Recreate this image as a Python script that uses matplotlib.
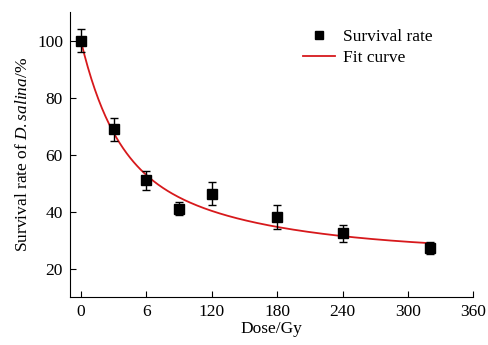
import numpy as np
import matplotlib
matplotlib.use("Agg")
import matplotlib.pyplot as plt
from matplotlib.lines import Line2D

plt.rcParams['font.family'] = ['Liberation Serif', 'DejaVu Serif']
plt.rcParams['mathtext.fontset'] = 'custom'
plt.rcParams['mathtext.it'] = 'Liberation Serif:italic'
plt.rcParams['mathtext.rm'] = 'Liberation Serif'

dose = [0, 30, 60, 90, 120, 180, 240, 320]
survival = [100, 68.8, 50.9, 41.0, 46.2, 38.2, 32.3, 27.2]
errors = [4.0, 4.2, 3.2, 2.3, 4.0, 4.2, 3.0, 2.0]

# two-phase exponential decay fit parameters
fit_y0, fit_a1, fit_t1, fit_a2, fit_t2 = 26.0, 40.0, 30.0, 34.0, 130.0

xticks = [0, 60, 120, 180, 240, 300, 360]
xticklabels = ['0', '6', '120', '180', '240', '300', '360']
yticks = [20, 40, 60, 80, 100]

fig = plt.figure(figsize=(4.89, 3.45), dpi=100)
ax = fig.add_axes([0.143, 0.139, 0.825, 0.826])

xf = np.linspace(0, 322, 300)
yf = fit_y0 + fit_a1 * np.exp(-xf / fit_t1) + fit_a2 * np.exp(-xf / fit_t2)

ax.errorbar(dose, survival, yerr=errors, fmt='s', color='black', ms=7,
            ecolor='black', elinewidth=1, capsize=3, capthick=1,
            label='Survival rate', zorder=3)
ax.plot(xf, yf, color='#d7191c', lw=1.3, label='Fit curve', zorder=2)

ax.set_xlim(-10, 360)
ax.set_ylim(10, 110)
ax.set_xticks(xticks)
ax.set_xticklabels(xticklabels)
ax.set_yticks(yticks)
ax.spines['top'].set_visible(False)
ax.spines['right'].set_visible(False)
ax.tick_params(direction='in', length=4, labelsize=12.5, pad=5)
ax.set_xlabel('Dose/Gy', fontsize=12.5, labelpad=1)
ax.set_ylabel(r'Survival rate of $\mathit{D.salina}$/%', fontsize=12.5, labelpad=4)

h0 = Line2D([], [], marker='s', ls='none', color='black', ms=6)
h1 = Line2D([], [], color='#d7191c', lw=1.3)
ax.legend([h0, h1], ['Survival rate', 'Fit curve'], loc='upper right',
          frameon=False, fontsize=12.5, handlelength=1.8, borderaxespad=0.3,
          bbox_to_anchor=(0.93, 0.985), labelspacing=0.3, handletextpad=0.5)

fig.savefig('out.png', dpi=100)
